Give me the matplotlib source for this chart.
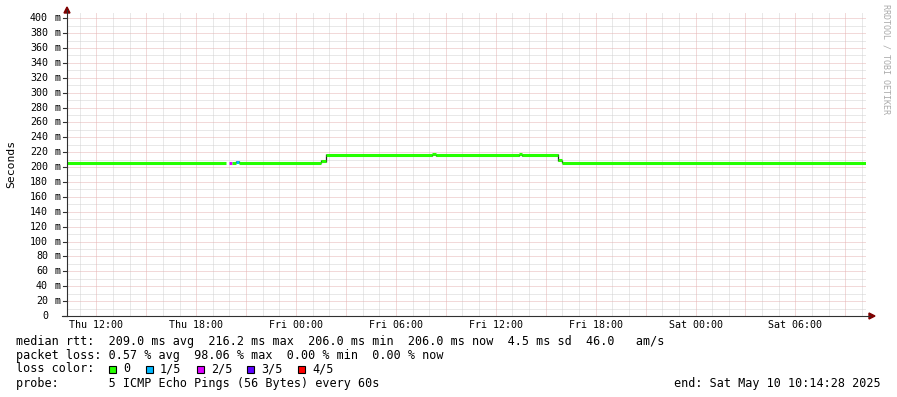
import numpy as np
import matplotlib
matplotlib.use("Agg")
import matplotlib.pyplot as plt
from matplotlib.patches import Rectangle, Polygon
from matplotlib.lines import Line2D

# time in hours since Thu 00:00, window ends Sat May 10 10:14:28
t_end = 58.2411
t_start = t_end - 48.0

# median rtt segments (ms) and number of lost pings (of 5) per segment
seg_start = [10.2411, 19.95, 20.15, 20.37, 20.57, 25.50, 25.80, 32.16, 32.40, 37.39, 37.57, 39.75, 39.95]
seg_end = [19.79, 20.15, 20.37, 20.57, 25.50, 25.80, 32.16, 32.40, 37.39, 37.57, 39.75, 39.95, 58.2411]
seg_rtt = [206.0, 206.0, 206.0, 207.5, 206.0, 208.0, 216.0, 217.0, 216.0, 217.0, 216.0, 209.0, 206.0]
seg_loss = [0, 2, 0, 1, 0, 0, 0, 0, 0, 0, 0, 0, 0]

loss_colors = ['#26ff00', '#00b8ff', '#dd00ff', '#5e00ff', '#ff0000']
loss_labels = ['0', '1/5', '2/5', '3/5', '4/5']

xtick_hours = [12, 18, 24, 30, 36, 42, 48, 54]
xtick_labels = ['Thu 12:00', 'Thu 18:00', 'Fri 00:00', 'Fri 06:00',
                'Fri 12:00', 'Fri 18:00', 'Sat 00:00', 'Sat 06:00']
ytick_vals = list(range(0, 420, 20))

legend_lines = [
    "median rtt:  209.0 ms avg  216.2 ms max  206.0 ms min  206.0 ms now  4.5 ms sd  46.0   am/s",
    "packet loss: 0.57 % avg  98.06 % max  0.00 % min  0.00 % now",
    "loss color:",
    "probe:       5 ICMP Echo Pings (56 Bytes) every 60s",
]
end_text = "end: Sat May 10 10:14:28 2025"

W, H = 897, 397
MONO = 'DejaVu Sans Mono'


def px(x, y):
    return x / W, 1 - y / H


fig = plt.figure(figsize=(W / 100, H / 100), dpi=100)
fig.patch.set_facecolor('white')
ax = fig.add_axes([67 / W, 81 / H, 799 / W, 304 / H])
ax.set_xlim(t_start, t_end)
ax.set_ylim(0, 408.3)
for s in ax.spines.values():
    s.set_visible(False)
ax.set_xticks([])
ax.set_yticks([])

# grid
minor_kw = dict(color='#d2d2d2', lw=0.72, ls=(0, (1, 1)), zorder=1)
major_kw = dict(color='#e6b4b4', lw=0.72, ls=(0, (1, 1)), zorder=1)
for h in np.arange(11, 59, 1):
    if h % 3:
        ax.axvline(h, **minor_kw)
for v in range(10, 410, 20):
    ax.axhline(v, **minor_kw)
for h in np.arange(12, 59, 3):
    ax.axvline(h, **major_kw)
for v in ytick_vals[1:]:
    ax.axhline(v, **major_kw)

# median line: dark joins at level changes, colored by loss on top
for i in range(len(seg_rtt) - 1):
    if abs(seg_end[i] - seg_start[i + 1]) < 1e-6 and seg_rtt[i] != seg_rtt[i + 1]:
        lo, hi = sorted([seg_rtt[i], seg_rtt[i + 1]])
        ax.vlines(seg_end[i], lo - 1, hi + 1, color='#202020', lw=0.9, zorder=3)
ax.hlines(seg_rtt, seg_start, seg_end, colors=[loss_colors[l] for l in seg_loss],
          lw=2.2, capstyle='butt', zorder=4)

# y labels
for v in ytick_vals:
    y = 316 - v * (304 / 408.3)
    fig.text(*px(48, y), str(v), ha='right', va='center', family=MONO, fontsize=7.2)
    if v:
        fig.text(*px(54, y), 'm', ha='left', va='center', family=MONO, fontsize=7.2)
    fig.add_artist(Line2D([63 / W, 67 / W], [1 - y / H] * 2, color='#303030', lw=0.8))

# x labels
for h, lab in zip(xtick_hours, xtick_labels):
    x = 67 + (h - t_start) / 48.0 * 799
    fig.text(*px(x, 325), lab, ha='center', va='center', family=MONO, fontsize=7.2)

# axes lines and arrows
fig.add_artist(Line2D([67 / W, 67 / W], [1 - 316 / H, 1 - 10 / H], color='#303030', lw=0.8))
fig.add_artist(Line2D([62 / W, 870 / W], [1 - 316 / H] * 2, color='#303030', lw=0.8))
fig.add_artist(Polygon([px(64, 13), px(70, 13), px(67, 7)], closed=True,
                       transform=fig.transFigure, color='#7f0000'))
fig.add_artist(Polygon([px(869, 313), px(869, 319), px(875, 316)], closed=True,
                       transform=fig.transFigure, color='#7f0000'))

fig.text(*px(11, 164), 'Seconds', rotation=90, ha='center', va='center',
         family=MONO, fontsize=8.2)
fig.text(*px(886, 4), 'RRDTOOL / TOBI OETIKER', rotation=270, ha='center', va='top',
         family=MONO, fontsize=6, color='#aaaaaa')

# legend
for i, line in enumerate(legend_lines):
    fig.text(*px(16, 341 + 14 * i), line, ha='left', va='center', family=MONO, fontsize=8.5)
fig.text(*px(881, 383), end_text, ha='right', va='center', family=MONO, fontsize=8.5)

sq_x = [109, 146, 197, 247, 298]
for x, c, lab in zip(sq_x, loss_colors, loss_labels):
    fx, fy = px(x, 373)
    fig.add_artist(Rectangle((fx, fy), 7 / W, 7 / H, transform=fig.transFigure,
                             facecolor=c, edgecolor='black', lw=0.8))
    fig.text(*px(x + 14, 369), lab, ha='left', va='center', family=MONO, fontsize=8.5)

fig.savefig('out.png', dpi=100, facecolor='white')
